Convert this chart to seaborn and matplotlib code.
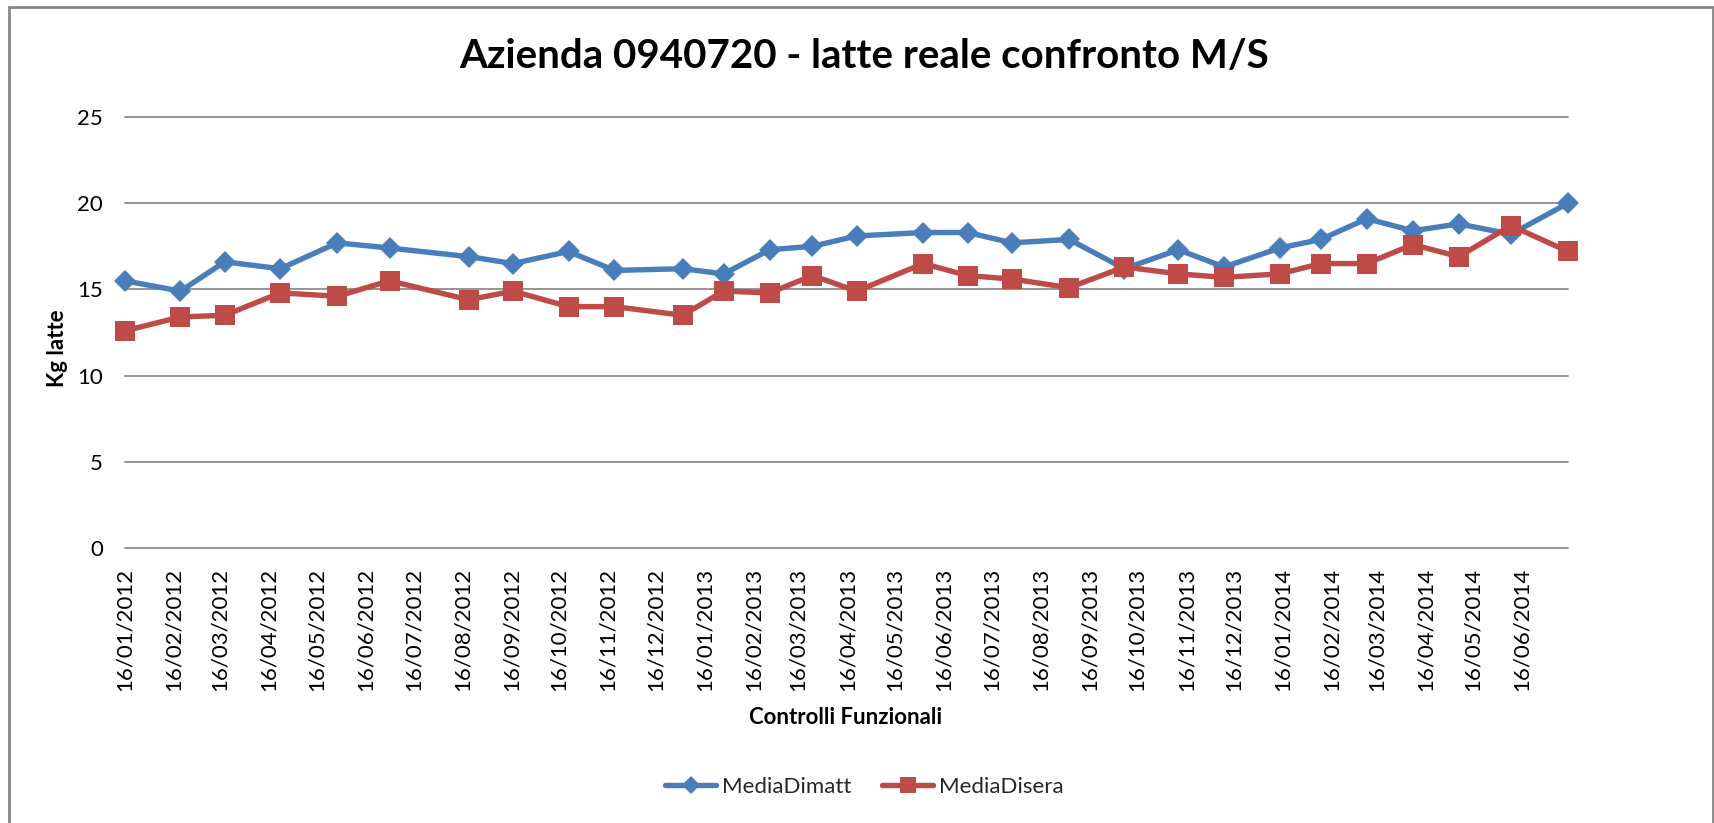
import matplotlib
matplotlib.use('Agg')
import matplotlib.pyplot as plt
import matplotlib.dates as mdates
from matplotlib.patches import Rectangle
import seaborn as sns
import pandas as pd

# sampling dates (controlli funzionali)
dates = ['2012-01-16', '2012-02-20', '2012-03-19', '2012-04-23', '2012-05-29',
         '2012-07-01', '2012-08-20', '2012-09-17', '2012-10-22', '2012-11-20',
         '2013-01-02', '2013-01-28', '2013-02-26', '2013-03-25', '2013-04-22',
         '2013-06-03', '2013-07-01', '2013-07-29', '2013-09-03', '2013-10-08',
         '2013-11-11', '2013-12-10', '2014-01-14', '2014-02-09', '2014-03-10',
         '2014-04-08', '2014-05-07', '2014-06-09', '2014-07-15']

media_dimatt = [15.5, 14.9, 16.6, 16.2, 17.7, 17.4, 16.9, 16.5, 17.2, 16.1,
                16.2, 15.9, 17.3, 17.5, 18.1, 18.3, 18.3, 17.7, 17.9, 16.2,
                17.3, 16.3, 17.4, 17.9, 19.1, 18.4, 18.8, 18.2, 20.0]

media_disera = [12.6, 13.4, 13.5, 14.8, 14.6, 15.5, 14.4, 14.9, 14.0, 14.0,
                13.5, 14.9, 14.8, 15.8, 14.9, 16.5, 15.8, 15.6, 15.1, 16.3,
                15.9, 15.7, 15.9, 16.5, 16.5, 17.6, 16.9, 18.7, 17.2]

series_names = ['MediaDimatt', 'MediaDisera']
series_colors = ['#4A7EBB', '#BE4B48']

title = 'Azienda 0940720 - latte reale confronto M/S'
xlabel = 'Controlli Funzionali'
ylabel = 'Kg latte'
yticks = [0, 5, 10, 15, 20, 25]

df = pd.DataFrame({'data': pd.to_datetime(dates), 'MediaDimatt': media_dimatt,
                   'MediaDisera': media_disera})
df = df.melt(id_vars='data', var_name='serie', value_name='kg')

sns.set_style('white')
plt.rcParams['font.family'] = ['Lato', 'DejaVu Sans']

fig = plt.figure(figsize=(17.15, 8.23), dpi=100)
ax = fig.add_axes([125 / 1715, 1 - 548 / 823, (1568 - 125) / 1715, (548 - 117) / 823])

styles = {'MediaDimatt': dict(marker='D', markersize=11.5),
          'MediaDisera': dict(marker='s', markersize=14.5)}
for name, col in zip(series_names, series_colors):
    sns.lineplot(data=df[df['serie'] == name], x='data', y='kg', ax=ax,
                 color=col, linewidth=3.9, markeredgewidth=0, label=name,
                 clip_on=False, legend=False, **styles[name])

ax.set_xlim(pd.Timestamp(dates[0]), pd.Timestamp(dates[-1]))
ax.set_ylim(0, 25)
ax.set_yticks(yticks)
ax.xaxis.set_major_locator(mdates.MonthLocator(bymonthday=16))
ax.xaxis.set_major_formatter(mdates.DateFormatter('%d/%m/%Y'))
ax.tick_params(axis='x', labelrotation=90, labelsize=16, pad=14, length=0)
ax.tick_params(axis='y', labelsize=16, pad=16, length=0)
for lab in ax.get_xticklabels() + ax.get_yticklabels():
    lab.set_color('black')

ax.yaxis.grid(True, color='#8C8C8C', linewidth=1.3)
ax.xaxis.grid(False)
for gl in ax.yaxis.get_gridlines():
    gl.set_clip_on(False)
for s in ax.spines.values():
    s.set_visible(False)
ax.set_axisbelow(True)
ax.set_xlabel('')
ax.set_ylabel('')

fig.text(0.504, 1 - 56 / 823, title, ha='center', va='center',
         fontsize=29, fontweight='bold', color='black')
fig.text(846 / 1715, 1 - 717 / 823, xlabel, ha='center', va='center',
         fontsize=16, fontweight='bold', color='black')
fig.text(57 / 1715, 1 - 348 / 823, ylabel, ha='center', va='center',
         rotation=90, fontsize=16, fontweight='bold', color='black')

handles, labels = ax.get_legend_handles_labels()
fig.legend(handles, labels, loc='center', bbox_to_anchor=(0.504, 1 - 787 / 823),
           ncol=2, frameon=False, fontsize=16, handlelength=2.3,
           handletextpad=0.25, columnspacing=1.4, markerscale=0.8)

fig.patches.append(Rectangle((9 / 1715, -0.05), (1713 - 9) / 1715, 1.05 - 7 / 823,
                             transform=fig.transFigure, fill=False,
                             edgecolor='#868686', linewidth=2))

fig.savefig('out.png', dpi=100)
